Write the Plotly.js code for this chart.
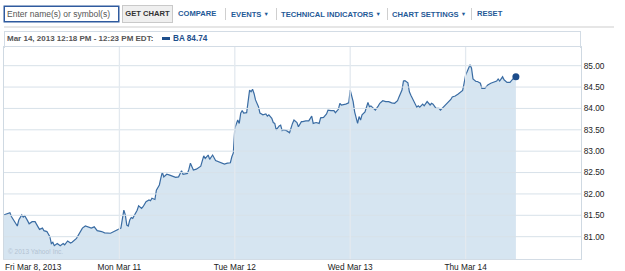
<!DOCTYPE html>
<html>
<head>
<meta charset="utf-8">
<script src="https://cdn.plot.ly/plotly-3.0.1.min.js"></script>
<style>
  html, body { margin:0; padding:0; background:#fff; }
  #wrap { position:relative; width:625px; height:271px; overflow:hidden; font-family:"Liberation Sans", Arial, sans-serif; }
  #chart { position:absolute; left:0; top:0; width:625px; height:271px; }
  .ov { position:absolute; white-space:nowrap; z-index:5; }
  .tb { font-size:7.6px; font-weight:bold; color:#1f5a97; line-height:10px; top:8.5px; }
  .sep { position:absolute; width:1px; height:12px; top:8px; background:#cfcfcf; z-index:5; }
  .tri { font-size:5.5px; vertical-align:1px; margin-left:2px; }
</style>
</head>
<body>
<div id="wrap">
  <div id="chart"></div>

  <div class="ov" style="left:4px;top:6px;width:113px;height:14px;border:1px solid #2f5a9e;box-shadow:0 0 0 0.5px #2f5a9e;background:#fff;"></div>
  <div class="ov" style="left:7px;top:8.5px;font-size:8.5px;color:#555;line-height:10px;">Enter name(s) or symbol(s)</div>
  <div class="ov" style="left:122px;top:5px;width:49px;height:16px;border:1px solid #c9c9c9;background:#efefef;"></div>
  <div class="ov" style="left:122px;top:8.5px;width:51px;text-align:center;font-size:7.6px;font-weight:bold;color:#333;line-height:10px;">GET CHART</div>

  <div class="ov tb" style="left:178px;">COMPARE</div>
  <div class="sep" style="left:225px;"></div>
  <div class="ov tb" style="left:231px;">EVENTS<span class="tri">▼</span></div>
  <div class="sep" style="left:276px;"></div>
  <div class="ov tb" style="left:281px;">TECHNICAL INDICATORS<span class="tri">▼</span></div>
  <div class="sep" style="left:387px;"></div>
  <div class="ov tb" style="left:392px;">CHART SETTINGS<span class="tri">▼</span></div>
  <div class="sep" style="left:471px;"></div>
  <div class="ov tb" style="left:477px;">RESET</div>

  <div class="ov" style="left:4px;top:26px;width:610px;height:2px;background:#e6e6e6;"></div>

  <div class="ov" style="left:4px;top:31px;width:575px;height:16px;border:1px solid #d3dce5;border-bottom:none;"></div>
  <div class="ov" id="hdr" style="left:7px;top:33.5px;font-size:8px;font-weight:bold;color:#555;line-height:10px;"></div>
  <div class="ov" style="left:162px;top:37px;width:8px;height:3px;background:#1e4f8c;"></div>
  <div class="ov" id="leg" style="left:173px;top:33.5px;font-size:8.2px;font-weight:bold;color:#1e4f8c;line-height:10px;"></div>

  <div class="ov" style="left:8px;top:248px;font-size:6.5px;color:#b3c3d2;line-height:8px;">© 2013 Yahoo! Inc.</div>
</div>

<script>
// ---- data ----
var symbol = 'BA';
var lastPrice = 84.74;
var rangeText = 'Mar 14, 2013 12:18 PM - 12:23 PM EDT:';

var dayLabels = ['Fri Mar 8, 2013', 'Mon Mar 11', 'Tue Mar 12', 'Wed Mar 13', 'Thu Mar 14'];
var yTicks = [81.0, 81.5, 82.0, 82.5, 83.0, 83.5, 84.0, 84.5, 85.0];

// minutes after 9:30 open, and price
var friMin = [0,20,25,35,45,50,60,65,70,80,85,95,105,115,120,130,135,145,155,160,165,170,180,190,200,205,215,225,230,245,255,265,275,285,295,305,315,330,340,360,370,380,385];
var friPx  = [81.51,81.56,81.47,81.35,81.25,81.39,81.51,81.46,81.49,81.37,81.30,81.35,81.35,81.23,81.17,81.20,81.14,81.12,81.00,80.84,80.87,80.79,80.84,80.79,80.84,80.81,80.90,80.85,80.87,80.96,81.08,81.20,81.25,81.22,81.20,81.23,81.14,81.12,81.09,81.08,81.12,81.16,81.17];

var monMin = [0,5,15,20,25,30,35,40,45,55,60,65,75,80,90,100,105,110,120,125,135,140,145,150,160,170,180,190,200,210,215,230,235,240,250,260,275,280,285,290,300,305,315,325,335,345,355,365,375,380,385];
var monPx  = [81.18,81.20,81.62,81.51,81.27,81.25,81.39,81.45,81.43,81.55,81.62,81.72,81.66,81.70,81.82,81.86,81.84,81.90,81.87,82.09,82.21,82.37,82.51,82.40,82.46,82.44,82.42,82.39,82.40,82.54,82.46,82.48,82.58,82.72,82.56,82.58,82.65,82.79,82.89,82.83,82.91,82.81,82.91,82.78,82.75,82.72,82.70,82.72,82.73,82.87,82.96];

var tueMin = [0,10,15,20,25,30,40,45,50,55,60,65,70,80,85,95,105,110,115,125,130,135,140,150,155,160,165,175,185,195,200,210,215,225,230,240,250,260,265,275,285,290,300,310,315,325,335,340,350,355,360,375,385];
var tuePx  = [83.54,83.73,83.65,83.89,83.95,83.89,83.90,84.24,84.43,84.39,84.45,84.35,84.20,84.04,83.89,83.85,83.87,83.82,83.85,83.77,83.67,83.65,83.50,83.59,83.61,83.48,83.50,83.48,83.43,83.65,83.73,83.67,83.57,83.69,83.69,83.71,83.71,83.82,83.65,83.67,83.65,83.78,83.79,83.87,83.96,83.95,83.95,83.90,83.98,84.12,84.08,84.10,84.13];

var wedMin = [0,10,15,25,30,35,40,50,60,65,70,80,85,95,100,110,120,130,140,150,160,165,175,180,185,195,200,205,215,225,230,235,245,250,260,270,275,280,290,300,305,315,325,335,340,345,355,365,370,380,385];
var wedPx  = [84.43,84.16,83.92,83.65,83.81,83.73,83.85,83.92,84.14,84.04,84.06,84.00,83.96,84.06,84.12,84.18,84.16,84.16,84.13,84.12,84.18,84.27,84.43,84.64,84.65,84.60,84.39,84.31,84.16,84.03,84.06,84.03,84.10,84.06,84.16,84.08,84.12,84.10,84.00,84.00,83.96,84.03,84.12,84.18,84.21,84.27,84.29,84.34,84.37,84.42,84.59];

var thuMin = [0,5,15,20,25,35,40,50,55,65,75,85,95,105,110,115,125,130,140,150,160,170];
var thuPx  = [84.78,84.86,85.02,84.94,84.69,84.63,84.63,84.59,84.47,84.47,84.55,84.59,84.61,84.64,84.69,84.64,84.74,84.67,84.61,84.61,84.69,84.74];

// ---- build series: x = trading-day index + fraction of the 390-minute session ----
var sessionMin = 390;
var days = [[friMin, friPx], [monMin, monPx], [tueMin, tuePx], [wedMin, wedPx], [thuMin, thuPx]];
var xs = [], ys = [];
days.forEach(function (d, i) {
  d[0].forEach(function (m, k) { xs.push(i + m / sessionMin); ys.push(d[1][k]); });
});

document.getElementById('hdr').textContent = rangeText;
document.getElementById('leg').textContent = symbol + ' ' + lastPrice.toFixed(2);

var gridColor = '#d8e1e9';
var shapes = [];
yTicks.forEach(function (v) {
  shapes.push({type:'line', xref:'paper', x0:0, x1:1, yref:'y', y0:v, y1:v, layer:'above',
               line:{color:gridColor, width:1}});
});
for (var i = 1; i < dayLabels.length; i++) {
  shapes.push({type:'line', xref:'x', x0:i, x1:i, yref:'paper', y0:0, y1:1, layer:'above',
               line:{color:'#e3e9ef', width:1.3}});
}

var tickFont = {family:'"Liberation Sans", Arial, sans-serif', size:8.3, color:'#222'};

var traces = [
  {x: xs, y: ys, type:'scatter', mode:'lines', fill:'tozeroy', fillcolor:'#d6e5f1',
   line:{color:'#3a6ca3', width:1.2}, hoverinfo:'skip'},
  {x: [xs[xs.length-1]], y: [ys[ys.length-1]], type:'scatter', mode:'markers',
   marker:{color:'#1c4c8a', size:7}, hoverinfo:'skip'}
];

var layout = {
  width:625, height:271,
  margin:{l:4, r:44, t:47, b:12},
  paper_bgcolor:'rgba(0,0,0,0)', plot_bgcolor:'#fff',
  showlegend:false,
  xaxis:{range:[0, 5], tickvals:[1,2,3,4], ticktext:dayLabels.slice(1),
         showgrid:false, zeroline:false, showline:true, mirror:true, linecolor:'#d3dce5',
         ticks:'', tickfont:tickFont, fixedrange:true},
  yaxis:{range:[80.478, 85.437], side:'right', tickvals:yTicks,
         ticktext:yTicks.map(function(v){return v.toFixed(2);}),
         showgrid:false, zeroline:false, showline:true, mirror:true, linecolor:'#cfd9e2',
         ticks:'', tickfont:tickFont, fixedrange:true},
  shapes: shapes,
  annotations:[{x:0, xref:'x', y:0, yref:'paper', xanchor:'left', yanchor:'top',
                yshift:-1, xshift:-1, text:dayLabels[0], showarrow:false, font:tickFont}]
};

Plotly.newPlot('chart', traces, layout, {staticPlot:true, displayModeBar:false});
</script>
</body>
</html>
